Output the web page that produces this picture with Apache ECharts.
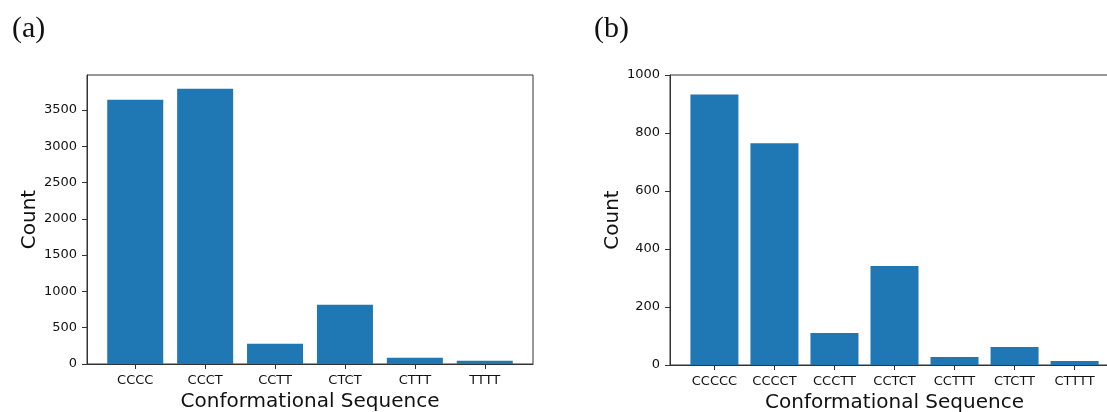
<!DOCTYPE html>
<html>
<head>
<meta charset="utf-8">
<script src="https://cdn.jsdelivr.net/npm/echarts@6/dist/echarts.min.js"></script>
<style>
  html, body { margin: 0; padding: 0; background: #fff; }
  #chart { width: 1107px; height: 412px; }
</style>
</head>
<body>
<div id="chart"></div>
<script>
// Panel (a): four-unit conformational sequences
const categoriesA = ['CCCC', 'CCCT', 'CCTT', 'CTCT', 'CTTT', 'TTTT'];
const countsA = [3640, 3790, 280, 815, 87, 46];
const yTicksA = [0, 500, 1000, 1500, 2000, 2500, 3000, 3500];

// Panel (b): five-unit conformational sequences
const categoriesB = ['CCCCC', 'CCCCT', 'CCCTT', 'CCTCT', 'CCTTT', 'CTCTT', 'CTTTT'];
const countsB = [933, 765, 110, 341, 28, 62, 14];
const yTicksB = [0, 200, 400, 600, 800, 1000];

const FONT = 'DejaVu Sans';
const INK = '#111';
const FRAME = '#333';
const BAR = '#1f77b4';

// matplotlib-style x range: bars span [-0.4, n-0.6] plus 5% margins
function xRange(n) {
  const lo = -0.4, hi = n - 0.6, pad = 0.05 * (hi - lo);
  return [lo - pad, hi + pad];
}
const idx = n => Array.from({ length: n }, (_, i) => i);

function xAxisFor(gridIndex, cats) {
  const [mn, mx] = xRange(cats.length);
  return {
    gridIndex, type: 'value', min: mn, max: mx,
    name: 'Conformational Sequence', nameLocation: 'middle', nameGap: 27,
    nameTextStyle: { fontFamily: FONT, fontSize: 20, color: INK },
    splitLine: { show: false },
    axisLine: { show: true, onZero: false, lineStyle: { color: FRAME, width: 1 } },
    axisTick: { show: true, inside: false, length: 5, customValues: idx(cats.length), lineStyle: { color: FRAME, width: 1 } },
    axisLabel: {
      customValues: idx(cats.length), margin: 10,
      fontFamily: FONT, fontSize: 13, color: INK,
      formatter: v => cats[Math.round(v)]
    }
  };
}

function yAxisFor(gridIndex, ticks, max) {
  return {
    gridIndex, type: 'value', min: 0, max,
    name: 'Count', nameLocation: 'middle', nameRotate: 90, nameGap: 47,
    nameTextStyle: { fontFamily: FONT, fontSize: 20, color: INK },
    splitLine: { show: false },
    axisLine: { show: true, onZero: false, lineStyle: { color: FRAME, width: 1 } },
    axisTick: { show: true, inside: false, length: 5, customValues: ticks, lineStyle: { color: FRAME, width: 1 } },
    axisLabel: { customValues: ticks, margin: 10, fontFamily: FONT, fontSize: 13, color: INK, formatter: v => String(v) }
  };
}

const chart = echarts.init(document.getElementById('chart'), null, { renderer: 'canvas' });
chart.setOption({
  animation: false,
  backgroundColor: '#fff',
  title: [
    { text: '(a)', left: 7, top: 9, textStyle: { fontFamily: 'Liberation Serif', fontWeight: 'normal', fontSize: 30, color: INK } },
    { text: '(b)', left: 589, top: 9, textStyle: { fontFamily: 'Liberation Serif', fontWeight: 'normal', fontSize: 30, color: INK } }
  ],
  grid: [
    { left: 87, width: 446, top: 75, height: 289, outerBoundsMode: 'none', containLabel: false,
      show: true, borderColor: FRAME, borderWidth: 1, backgroundColor: 'transparent' },
    { left: 670, width: 449, top: 75, height: 290, outerBoundsMode: 'none', containLabel: false,
      show: true, borderColor: FRAME, borderWidth: 1, backgroundColor: 'transparent' }
  ],
  xAxis: [xAxisFor(0, categoriesA), xAxisFor(1, categoriesB)],
  yAxis: [yAxisFor(0, yTicksA, Math.max(...countsA) * 1.05), yAxisFor(1, yTicksB, 1000)],
  series: [
    {
      type: 'bar', xAxisIndex: 0, yAxisIndex: 0, barWidth: 56,
      itemStyle: { color: BAR },
      data: countsA.map((v, i) => [i, v])
    },
    {
      type: 'bar', xAxisIndex: 1, yAxisIndex: 1, barWidth: 48,
      itemStyle: { color: BAR },
      data: countsB.map((v, i) => [i, v])
    }
  ]
});
</script>
</body>
</html>
